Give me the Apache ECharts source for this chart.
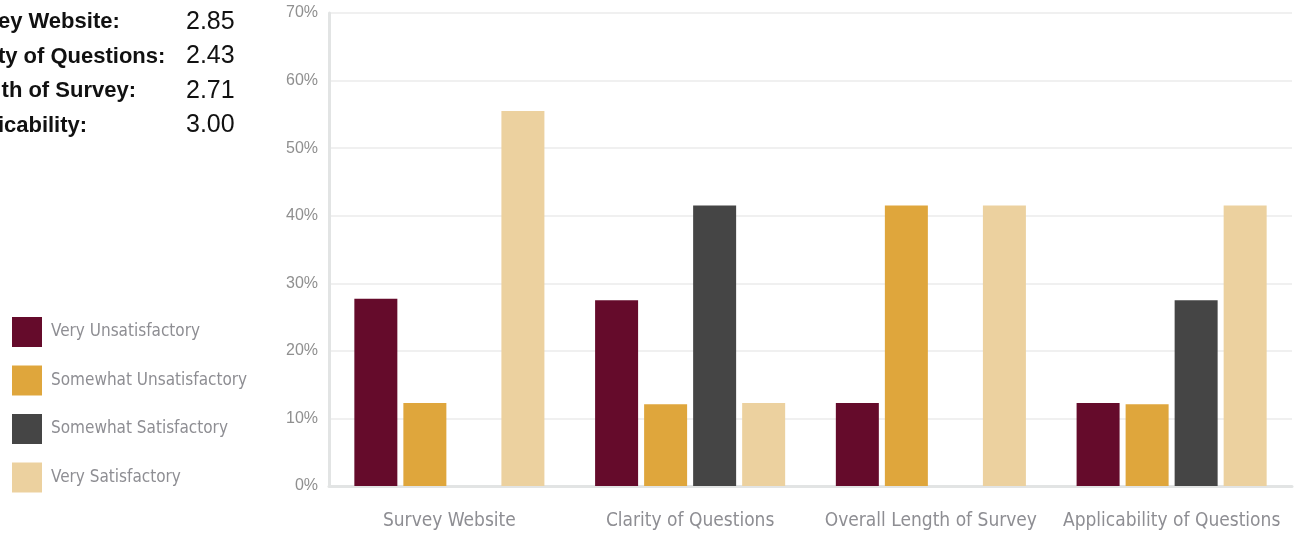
<!DOCTYPE html>
<html>
<head>
<meta charset="utf-8">
<script src="https://cdn.jsdelivr.net/npm/echarts@6/dist/echarts.min.js"></script>
<style>
  html, body { margin: 0; padding: 0; background: #ffffff; }
  #chart { width: 1306px; height: 533px; }
</style>
</head>
<body>
<div id="chart"></div>
<script>
// ---- Data ----
const categories = ['Survey Website', 'Clarity of Questions', 'Overall Length of Survey', 'Applicability of Questions'];
const seriesNames = ['Very Unsatisfactory', 'Somewhat Unsatisfactory', 'Somewhat Satisfactory', 'Very Satisfactory'];
const veryUnsatisfactory = [27.7, 27.5, 12.3, 12.3];
const somewhatUnsatisfactory = [12.3, 12.1, 41.5, 12.1];
const somewhatSatisfactory = [0, 41.5, 0, 27.5];
const verySatisfactory = [55.5, 12.3, 41.5, 41.5];
const summaryLabels = ['Survey Website:', 'Clarity of Questions:', 'Length of Survey:', 'Applicability:'];
const summaryValues = ['2.85', '2.43', '2.71', '3.00'];
const yTicks = [0, 10, 20, 30, 40, 50, 60, 70];

const colors = ['#650B2B', '#DFA63C', '#454545', '#ECD19F'];
const seriesValues = [veryUnsatisfactory, somewhatUnsatisfactory, somewhatSatisfactory, verySatisfactory];
const condensed = '"DejaVu Sans Condensed", "Liberation Sans Narrow", "Liberation Sans", sans-serif';

const chart = echarts.init(document.getElementById('chart'));

const graphics = [];
summaryLabels.forEach((lab, i) => {
  const y = 22 + i * 34.5;
  graphics.push({
    type: 'text', x: -51, y: y,
    style: { text: lab, fill: '#111111', font: 'bold 22px "Liberation Sans", Arial, sans-serif',
             textAlign: 'left', textVerticalAlign: 'middle', align: 'left', verticalAlign: 'middle' }
  });
  graphics.push({
    type: 'text', x: 186, y: y,
    style: { text: summaryValues[i], fill: '#111111', font: '25px "Liberation Sans", Arial, sans-serif',
             textAlign: 'left', textVerticalAlign: 'middle', align: 'left', verticalAlign: 'middle' }
  });
});

const option = {
  animation: false,
  backgroundColor: '#ffffff',
  color: colors,
  graphic: graphics,
  legend: {
    orient: 'vertical',
    left: 7,
    top: 312,
    itemWidth: 30,
    itemHeight: 30,
    itemGap: 18.5,
    icon: 'rect',
    data: seriesNames,
    textStyle: {
      color: '#8E8E93',
      fontSize: 17,
      fontFamily: condensed,
      padding: [0, 0, 0, 4]
    }
  },
  grid: { left: 329, right: 14, top: 13, bottom: 47, containLabel: false },
  xAxis: {
    type: 'category',
    data: categories,
    axisTick: { show: false },
    axisLine: { show: true, lineStyle: { color: '#E2E4E4', width: 3 } },
    axisLabel: {
      color: '#8E8E93', fontSize: 19, margin: 26, interval: 0,
      fontFamily: condensed
    }
  },
  yAxis: {
    type: 'value',
    min: yTicks[0],
    max: yTicks[yTicks.length - 1],
    interval: 10,
    axisLine: { show: true, lineStyle: { color: '#E2E4E4', width: 3 } },
    axisTick: { show: false },
    splitLine: { show: true, lineStyle: { color: '#EBEBEB', width: 1.5 } },
    axisLabel: {
      color: '#8F8F8F', fontSize: 16, margin: 11,
      fontFamily: '"Liberation Sans", Arial, sans-serif',
      formatter: '{value}%'
    }
  },
  series: seriesNames.map((name, i) => ({
    name: name,
    type: 'bar',
    data: seriesValues[i],
    barWidth: 43,
    barGap: '14%',
    itemStyle: { color: colors[i] }
  }))
};

chart.setOption(option);
</script>
</body>
</html>
